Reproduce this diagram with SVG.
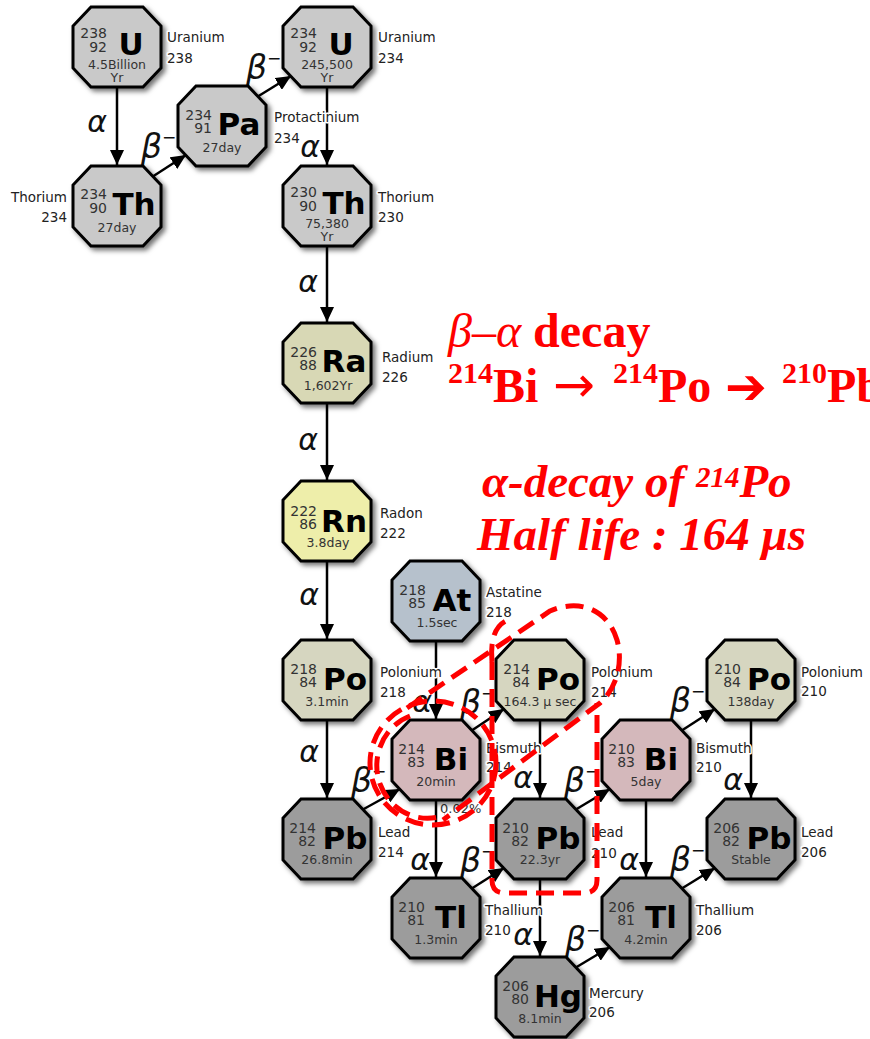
<svg xmlns="http://www.w3.org/2000/svg" xmlns:xlink="http://www.w3.org/1999/xlink" width="870" height="1039" viewBox="0 0 870 1039">
<defs>
<filter id="sh" x="-20%" y="-20%" width="150%" height="150%">
<feDropShadow dx="3" dy="3" stdDeviation="2.5" flood-color="#000" flood-opacity="0.55"/>
</filter>
<path id="oct" d="M-26,-40 L26,-40 L44,-21 L44,21 L26,40 L-26,40 L-44,21 L-44,-21 Z"/>
<marker id="ah" markerUnits="userSpaceOnUse" markerWidth="16" markerHeight="14" refX="15" refY="7" orient="auto">
<path d="M0,0 L15,7 L0,14 Z" fill="#000"/>
</marker>
<style>
.oct{stroke:#000;stroke-width:3;filter:url(#sh)}
.lt{fill:#c9c9c9}.ra{fill:#d8d8b5}.rn{fill:#eeeeaa}.po{fill:#d6d6c0}.at{fill:#b6c1cc}.bi{fill:#d4b8bb}.dk{fill:#9c9c9c}
.n{font-family:"DejaVu Sans",sans-serif;font-size:14px;fill:#333;text-anchor:end}
.sym{font-family:"DejaVu Sans",sans-serif;font-weight:bold;font-size:31px;fill:#000;text-anchor:middle}
.hl{font-family:"DejaVu Sans",sans-serif;font-size:12.5px;fill:#333;text-anchor:middle}
.lab{font-family:"DejaVu Sans",sans-serif;font-size:13.5px;fill:#222;stroke:#fff;stroke-width:3;stroke-linejoin:round;paint-order:stroke}
.lab.l{text-anchor:end}
.ln{stroke:#000;stroke-width:2.5;fill:none;marker-end:url(#ah)}
.ga{font-family:"DejaVu Sans",sans-serif;font-style:italic;font-size:30px;fill:#111;text-anchor:end}
.gb{font-family:"DejaVu Sans",sans-serif;font-style:italic;font-size:33px;fill:#111}
.gb tspan{font-style:normal;font-size:17px}
.rt{font-family:"Liberation Serif","Times New Roman",serif;fill:#ff0000}
.rd{fill:none;stroke:#ff0000;stroke-width:5;stroke-dasharray:18 9}
</style>
</defs>
<rect width="870" height="1039" fill="#fff"/>

<g id="connectors">
<line class="ln" x1="117" y1="88" x2="117" y2="165"/>
<line class="ln" x1="152" y1="177" x2="186" y2="155"/>
<line class="ln" x1="257" y1="97" x2="291" y2="76"/>
<line class="ln" x1="327" y1="88" x2="327" y2="165"/>
<line class="ln" x1="327" y1="247" x2="327" y2="322"/>
<line class="ln" x1="327" y1="404" x2="327" y2="480"/>
<line class="ln" x1="327" y1="562" x2="327" y2="639"/>
<line class="ln" x1="327" y1="721" x2="327" y2="798"/>
<line class="ln" x1="362" y1="810" x2="400" y2="789"/>
<line class="ln" x1="436" y1="642" x2="436" y2="719"/>
<line class="ln" x1="471" y1="731" x2="504" y2="709"/>
<line class="ln" x1="436" y1="801" x2="436" y2="877"/>
<line class="ln" x1="540" y1="721" x2="540" y2="798"/>
<line class="ln" x1="575" y1="810" x2="610" y2="789"/>
<line class="ln" x1="471" y1="889" x2="504" y2="868"/>
<line class="ln" x1="540" y1="880" x2="540" y2="956"/>
<line class="ln" x1="681" y1="731" x2="715" y2="709"/>
<line class="ln" x1="646" y1="801" x2="646" y2="877"/>
<line class="ln" x1="751" y1="721" x2="751" y2="798"/>
<line class="ln" x1="681" y1="889" x2="715" y2="868"/>
<line class="ln" x1="575" y1="968" x2="610" y2="947"/>
<text class="ga" x="107" y="132">α</text>
<text class="ga" x="320" y="157">α</text>
<text class="ga" x="318" y="292">α</text>
<text class="ga" x="318" y="450">α</text>
<text class="ga" x="319" y="605">α</text>
<text class="ga" x="319" y="762">α</text>
<text class="ga" x="432" y="712">α</text>
<text class="ga" x="430" y="870">α</text>
<text class="ga" x="533" y="788">α</text>
<text class="ga" x="533" y="945">α</text>
<text class="ga" x="639" y="870">α</text>
<text class="ga" x="743" y="790">α</text>
<text class="gb" x="141" y="158">β<tspan dy="-15">−</tspan></text>
<text class="gb" x="246" y="79">β<tspan dy="-15">−</tspan></text>
<text class="gb" x="351" y="792">β<tspan dy="-15">−</tspan></text>
<text class="gb" x="460" y="714">β<tspan dy="-15">−</tspan></text>
<text class="gb" x="564" y="792">β<tspan dy="-15">−</tspan></text>
<text class="gb" x="460" y="872">β<tspan dy="-15">−</tspan></text>
<text class="gb" x="670" y="712">β<tspan dy="-15">−</tspan></text>
<text class="gb" x="670" y="871">β<tspan dy="-15">−</tspan></text>
<text class="gb" x="565" y="951">β<tspan dy="-15">−</tspan></text>
<text class="n" x="440" y="813" style="text-anchor:start;font-size:13px">0.02%</text>
</g>

<g id="U238">
<use href="#oct" x="117" y="47" class="oct lt"/>
<text class="n" x="107" y="38">238</text><text class="n" x="107" y="52">92</text>
<text class="sym" x="131" y="55">U</text>
<text class="hl" x="117" y="69">4.5Billion</text><text class="hl" x="117" y="82">Yr</text>
<text class="lab" x="167" y="42">Uranium</text><text class="lab" x="167" y="63">238</text>
</g>
<g id="Th234">
<use href="#oct" x="117" y="206" class="oct lt"/>
<text class="n" x="107" y="199">234</text><text class="n" x="107" y="213">90</text>
<text class="sym" x="134" y="215">Th</text>
<text class="hl" x="117" y="232">27day</text>
<text class="lab l" x="67" y="202">Thorium</text><text class="lab l" x="67" y="222">234</text>
</g>
<g id="Pa234">
<use href="#oct" x="222" y="126" class="oct lt"/>
<text class="n" x="212" y="120">234</text><text class="n" x="212" y="133">91</text>
<text class="sym" x="239" y="135">Pa</text>
<text class="hl" x="222" y="152">27day</text>
<text class="lab" x="274" y="122">Protactinium</text><text class="lab" x="274" y="143">234</text>
</g>
<g id="U234">
<use href="#oct" x="327" y="47" class="oct lt"/>
<text class="n" x="317" y="38">234</text><text class="n" x="317" y="52">92</text>
<text class="sym" x="341" y="55">U</text>
<text class="hl" x="327" y="69">245,500</text><text class="hl" x="327" y="82">Yr</text>
<text class="lab" x="378" y="42">Uranium</text><text class="lab" x="378" y="63">234</text>
</g>
<g id="Th230">
<use href="#oct" x="327" y="206" class="oct lt"/>
<text class="n" x="317" y="197">230</text><text class="n" x="317" y="211">90</text>
<text class="sym" x="344" y="214">Th</text>
<text class="hl" x="327" y="228">75,380</text><text class="hl" x="327" y="241">Yr</text>
<text class="lab" x="378" y="202">Thorium</text><text class="lab" x="378" y="222">230</text>
</g>
<g id="Ra226">
<use href="#oct" x="327" y="363" class="oct ra"/>
<text class="n" x="317" y="357">226</text><text class="n" x="317" y="370">88</text>
<text class="sym" x="344" y="372">Ra</text>
<text class="hl" x="328" y="390">1,602Yr</text>
<text class="lab" x="382" y="362">Radium</text><text class="lab" x="382" y="382">226</text>
</g>
<g id="Rn222">
<use href="#oct" x="327" y="521" class="oct rn"/>
<text class="n" x="317" y="516">222</text><text class="n" x="317" y="529">86</text>
<text class="sym" x="344" y="532">Rn</text>
<text class="hl" x="328" y="547">3.8day</text>
<text class="lab" x="380" y="518">Radon</text><text class="lab" x="380" y="538">222</text>
</g>
<g id="At218">
<use href="#oct" x="436" y="601" class="oct at"/>
<text class="n" x="426" y="595">218</text><text class="n" x="426" y="608">85</text>
<text class="sym" x="452" y="611">At</text>
<text class="hl" x="437" y="627">1.5sec</text>
<text class="lab" x="486" y="597">Astatine</text><text class="lab" x="486" y="617">218</text>
</g>
<g id="Po218">
<use href="#oct" x="327" y="680" class="oct po"/>
<text class="n" x="317" y="674">218</text><text class="n" x="317" y="687">84</text>
<text class="sym" x="345" y="690">Po</text>
<text class="hl" x="327" y="706">3.1min</text>
<text class="lab" x="380" y="677">Polonium</text><text class="lab" x="380" y="697">218</text>
</g>
<g id="Po214">
<use href="#oct" x="540" y="680" class="oct po"/>
<text class="n" x="530" y="674">214</text><text class="n" x="530" y="687">84</text>
<text class="sym" x="558" y="690">Po</text>
<text class="hl" x="540" y="706">164.3 μ sec</text>
<text class="lab" x="591" y="677">Polonium</text><text class="lab" x="591" y="697">214</text>
</g>
<g id="Po210">
<use href="#oct" x="751" y="680" class="oct po"/>
<text class="n" x="741" y="674">210</text><text class="n" x="741" y="687">84</text>
<text class="sym" x="769" y="690">Po</text>
<text class="hl" x="751" y="706">138day</text>
<text class="lab" x="801" y="677">Polonium</text><text class="lab" x="801" y="696">210</text>
</g>
<g id="Bi214">
<use href="#oct" x="436" y="760" class="oct bi"/>
<text class="n" x="425" y="754">214</text><text class="n" x="425" y="767">83</text>
<text class="sym" x="451" y="770">Bi</text>
<text class="hl" x="436" y="786">20min</text>
<text class="lab" x="486" y="753">Bismuth</text><text class="lab" x="486" y="772">214</text>
</g>
<g id="Bi210">
<use href="#oct" x="646" y="760" class="oct bi"/>
<text class="n" x="635" y="754">210</text><text class="n" x="635" y="767">83</text>
<text class="sym" x="661" y="770">Bi</text>
<text class="hl" x="646" y="786">5day</text>
<text class="lab" x="696" y="753">Bismuth</text><text class="lab" x="696" y="772">210</text>
</g>
<g id="Pb214">
<use href="#oct" x="327" y="839" class="oct dk"/>
<text class="n" x="316" y="833">214</text><text class="n" x="316" y="846">82</text>
<text class="sym" x="345" y="849">Pb</text>
<text class="hl" x="327" y="864">26.8min</text>
<text class="lab" x="378" y="837">Lead</text><text class="lab" x="378" y="857">214</text>
</g>
<g id="Pb210">
<use href="#oct" x="540" y="839" class="oct dk"/>
<text class="n" x="529" y="833">210</text><text class="n" x="529" y="846">82</text>
<text class="sym" x="558" y="849">Pb</text>
<text class="hl" x="540" y="864">22.3yr</text>
<text class="lab" x="591" y="837">Lead</text><text class="lab" x="591" y="858">210</text>
</g>
<g id="Pb206">
<use href="#oct" x="751" y="839" class="oct dk"/>
<text class="n" x="740" y="833">206</text><text class="n" x="740" y="846">82</text>
<text class="sym" x="769" y="849">Pb</text>
<text class="hl" x="751" y="864">Stable</text>
<text class="lab" x="801" y="837">Lead</text><text class="lab" x="801" y="857">206</text>
</g>
<g id="Tl210">
<use href="#oct" x="436" y="918" class="oct dk"/>
<text class="n" x="425" y="912">210</text><text class="n" x="425" y="925">81</text>
<text class="sym" x="451" y="928">Tl</text>
<text class="hl" x="436" y="944">1.3min</text>
<text class="lab" x="485" y="915">Thallium</text><text class="lab" x="485" y="935">210</text>
</g>
<g id="Tl206">
<use href="#oct" x="646" y="918" class="oct dk"/>
<text class="n" x="635" y="912">206</text><text class="n" x="635" y="925">81</text>
<text class="sym" x="661" y="928">Tl</text>
<text class="hl" x="646" y="944">4.2min</text>
<text class="lab" x="696" y="915">Thallium</text><text class="lab" x="696" y="935">206</text>
</g>
<g id="Hg206">
<use href="#oct" x="540" y="997" class="oct dk"/>
<text class="n" x="529" y="991">206</text><text class="n" x="529" y="1004">80</text>
<text class="sym" x="558" y="1007">Hg</text>
<text class="hl" x="540" y="1023">8.1min</text>
<text class="lab" x="589" y="998">Mercury</text><text class="lab" x="589" y="1017">206</text>
</g>

<g id="annotation">
<text class="rt" x="448" y="347" font-size="48"><tspan font-style="italic">β–α</tspan> <tspan font-weight="bold">decay</tspan></text>
<text class="rt" y="402" font-size="48" font-weight="bold"><tspan x="448" y="383" font-size="30">214</tspan><tspan y="402">Bi</tspan><tspan x="553" y="402" font-weight="normal" style="font-family:'DejaVu Sans',sans-serif" font-size="50">→</tspan><tspan x="613" y="383" font-size="30">214</tspan><tspan y="402">Po</tspan><tspan x="725" y="404" style="font-family:'DejaVu Sans',sans-serif" font-size="50">➔</tspan><tspan x="782" y="383" font-size="30">210</tspan><tspan y="402">Pb</tspan></text>
<text class="rt" x="482" y="497" font-size="47" font-weight="bold" font-style="italic">α-decay of <tspan font-size="29" dy="-10">214</tspan><tspan dy="10">Po</tspan></text>
<text class="rt" x="477" y="550" font-size="47" font-weight="bold" font-style="italic">Half life : 164 μs</text>
<ellipse class="rd" cx="433" cy="763" rx="63" ry="62"/>
<path class="rd" d="M 410 716 A 50 52 0 0 0 445 815"/>
<path class="rd" d="M 407 708 L 550 611 C 580 598 608 610 617 640 C 624 665 615 690 600 703 L 443 820"/>
<path class="rd" d="M 492 662 L 492 880 Q 492 893 505 893 L 584 893 Q 597 893 597 880 L 597 703"/>
<path class="rd" d="M 492 662 C 490 640 495 625 508 620"/>
</g>
</svg>
